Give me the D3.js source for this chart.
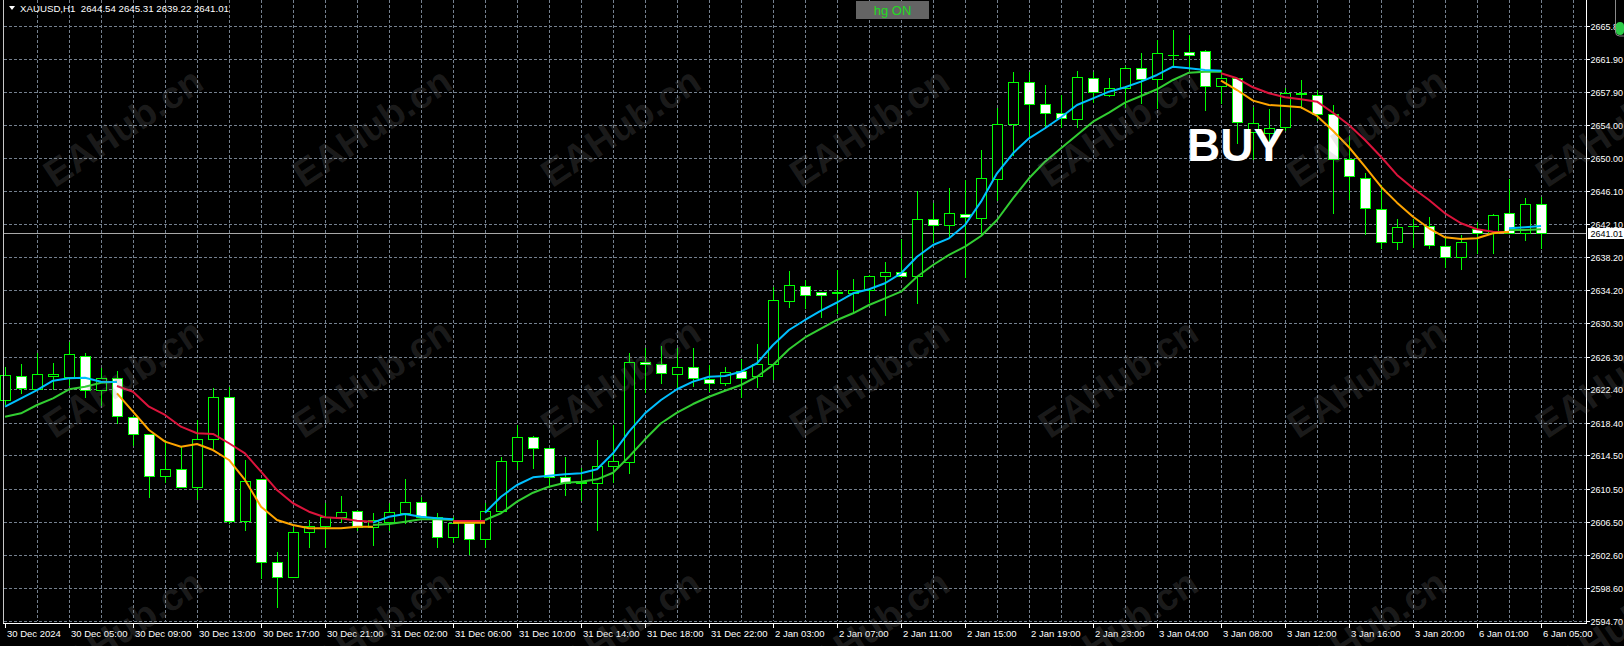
<!DOCTYPE html>
<html><head><meta charset="utf-8">
<script src="https://cdn.jsdelivr.net/npm/d3@7"></script>
<style>html,body{margin:0;padding:0;background:#000;overflow:hidden}</style>
</head><body>
<svg id="chart" width="1624" height="646"></svg>
<script>
// ---------------- DATA ----------------
const headerText = "XAUUSD,H1  2644.54 2645.31 2639.22 2641.01";
const lastPrice = 2641.01;
const signalText = "BUY";
const buttonText = "hg ON";
const watermarkText = "EAHub.cn";

const timeLabels = ["30 Dec 2024","30 Dec 05:00","30 Dec 09:00","30 Dec 13:00","30 Dec 17:00","30 Dec 21:00",
  "31 Dec 02:00","31 Dec 06:00","31 Dec 10:00","31 Dec 14:00","31 Dec 18:00","31 Dec 22:00",
  "2 Jan 03:00","2 Jan 07:00","2 Jan 11:00","2 Jan 15:00","2 Jan 19:00","2 Jan 23:00",
  "3 Jan 04:00","3 Jan 08:00","3 Jan 12:00","3 Jan 16:00","3 Jan 20:00","6 Jan 01:00","6 Jan 05:00"];
const timeLabelStep = 4; // one label every 4 bars

const priceTicks = [2594.70,2598.60,2602.60,2606.50,2610.50,2614.50,2618.40,2622.40,2626.30,2630.30,
  2634.20,2638.20,2642.10,2646.10,2650.00,2654.00,2657.90,2661.90,2665.80];

const openP = [2621.11,2624.02,2622.39,2623.98,2623.89,2626.40,2622.30,2623.77,2619.11,2617.01,
2612.06,2612.83,2610.68,2616.41,2621.50,2606.69,2611.63,2601.71,2599.92,2605.30,
2606.09,2607.16,2607.88,2605.97,2606.57,2607.64,2608.88,2607.16,2604.70,2606.45,
2604.46,2607.88,2613.86,2616.65,2615.34,2611.87,2611.23,2611.23,2613.26,2613.74,
2625.69,2625.38,2624.18,2625.02,2623.58,2623.11,2624.61,2623.98,2625.38,2632.98,
2634.73,2634.02,2633.93,2633.93,2634.25,2635.96,2636.44,2635.96,2642.70,2642.02,
2643.30,2642.82,2647.48,2654.06,2659.15,2656.48,2655.44,2654.65,2659.55,2657.56,
2658.36,2660.75,2659.43,2662.34,2662.74,2662.86,2658.64,2659.55,2653.17,2652.98,
2653.70,2657.76,2657.56,2655.29,2649.87,2647.60,2643.90,2639.99,2641.90,2641.90,
2639.51,2638.23,2641.51,2641.03,2643.42,2641.03,2644.54];

const highP = [2625.00,2625.38,2626.69,2625.50,2628.08,2626.73,2624.90,2624.58,2619.20,2617.05,
2616.33,2615.53,2618.72,2622.51,2622.63,2613.94,2611.67,2602.98,2605.97,2606.77,
2608.77,2609.64,2607.96,2607.57,2608.77,2611.63,2609.55,2607.64,2607.16,2606.77,
2608.77,2614.26,2618.12,2616.81,2615.37,2614.26,2612.95,2616.33,2618.12,2626.69,
2627.36,2627.56,2627.32,2627.32,2625.29,2625.09,2625.97,2627.80,2634.58,2636.53,
2635.45,2634.05,2636.65,2635.57,2636.05,2637.64,2640.31,2646.12,2644.61,2646.41,
2647.40,2650.98,2655.97,2660.34,2660.34,2658.70,2657.56,2660.43,2660.34,2659.55,
2661.02,2662.54,2664.13,2665.32,2664.73,2662.94,2660.55,2659.59,2656.16,2655.85,
2658.36,2659.35,2658.15,2656.36,2652.66,2648.20,2646.80,2642.70,2642.70,2643.01,
2640.62,2640.83,2642.42,2643.34,2647.48,2645.22,2645.31];

const lowP = [2620.60,2621.91,2622.30,2622.39,2622.90,2621.50,2620.51,2618.33,2615.73,2609.55,
2611.35,2610.68,2609.24,2615.34,2606.38,2605.57,2599.80,2596.41,2599.92,2603.58,
2603.58,2606.57,2605.57,2603.78,2605.57,2606.45,2607.16,2603.51,2604.18,2602.71,
2603.51,2607.57,2612.83,2612.95,2610.75,2609.76,2609.16,2605.57,2611.35,2612.42,
2622.10,2623.11,2622.63,2622.82,2622.22,2622.90,2621.50,2622.63,2623.62,2632.26,
2632.14,2631.06,2631.47,2631.47,2632.86,2631.27,2635.90,2632.74,2640.03,2640.71,
2635.84,2640.83,2645.01,2650.39,2652.57,2653.77,2653.77,2653.77,2656.76,2657.44,
2656.16,2656.57,2655.97,2660.94,2660.55,2655.77,2656.57,2651.78,2649.87,2649.87,
2653.37,2655.97,2654.57,2643.42,2645.09,2640.95,2639.24,2639.12,2639.43,2639.24,
2636.97,2636.73,2638.64,2638.64,2641.03,2640.23,2639.22];

const closeP = [2624.10,2622.51,2624.18,2624.18,2626.57,2622.30,2623.77,2619.20,2617.01,2612.06,
2612.83,2610.68,2616.41,2621.50,2606.69,2611.47,2601.71,2599.92,2605.30,2606.05,
2607.16,2607.76,2605.97,2606.77,2607.76,2608.88,2607.16,2604.70,2606.45,2604.46,
2607.88,2613.86,2616.65,2615.34,2611.94,2611.23,2611.27,2613.26,2613.86,2625.69,
2625.38,2624.30,2625.02,2623.70,2623.11,2624.42,2623.70,2625.38,2633.06,2634.85,
2633.66,2633.62,2633.98,2634.25,2635.96,2636.44,2635.96,2642.70,2642.02,2643.42,
2642.94,2647.60,2654.06,2659.15,2656.48,2655.44,2654.77,2659.67,2657.95,2658.36,
2660.75,2659.43,2662.54,2662.30,2662.34,2658.64,2659.55,2654.30,2654.17,2653.65,
2657.76,2657.72,2655.29,2649.87,2647.88,2644.02,2639.99,2641.82,2641.94,2639.63,
2638.23,2639.99,2641.03,2643.22,2641.10,2644.50,2641.01];

const gap = n => Array(n).fill(null);
// fast MA, uptrend buffer (blue)
const fastUp = [2620.31,2621.31,2622.30,2623.42,2623.70,2623.77,2623.30,2623.26, ...gap(15),
  2606.45,2607.16,2607.49,2607.16,2606.97,2606.85, null,
  2607.64,2609.55,2610.95,2611.87,2612.06,2612.23,2612.35,2612.83,2614.74,2617.32,
  2619.52,2621.11,2622.39,2623.30,2623.89,2623.98,2624.49,2625.50,2627.68,2629.47,
  2630.67,2631.80,2632.76,2633.86,2634.34,2635.06,2636.25,2638.23,2639.63,2640.43,
  2642.02,2644.81,2648.20,2650.59,2652.38,2653.58,2654.89,2656.36,2657.16,2657.95,
  2658.48,2659.15,2659.95,2660.94,2660.75,2660.54,2660.46, ...gap(17),
  2641.63,2641.75,2641.90];
// slow MA, uptrend buffer (green)
const slowUp = [2619.11,2619.52,2620.51,2621.31,2622.39,2622.70,2623.18,2623.30, ...gap(15),
  2606.17,2606.29,2606.57,2606.85,2606.85,2606.77, null,
  2606.77,2607.57,2608.96,2610.03,2610.75,2611.23,2611.35,2611.63,2612.42,2614.33,
  2616.41,2618.33,2619.59,2620.63,2621.50,2622.22,2622.90,2623.89,2625.29,2627.17,
  2628.58,2629.65,2630.67,2631.47,2632.46,2633.26,2634.05,2635.84,2637.24,2638.44,
  2639.43,2640.71,2642.62,2645.21,2647.60,2649.59,2651.19,2652.78,2654.37,2655.44,
  2656.64,2657.44,2658.24,2659.35,2660.22,2660.34,2660.34, ...gap(17),
  2641.42,2641.42,2641.51];
// fast MA, downtrend buffer (orange)
const fastDown = [...gap(7),
  2621.91,2619.71,2617.52,2616.13,2615.53,2615.85,2615.13,2613.94,2611.55,2608.36,
  2606.77,2606.17,2605.78,2605.78,2605.78,2605.97,2605.97, ...gap(4),
  2606.45,2606.45,2606.45, ...gap(45),
  2659.27,2658.15,2656.88,2656.36,2656.24,2656.09,2655.05,2653.29,2651.31,2648.99,
  2646.60,2644.69,2643.01,2641.63,2640.55,2640.35,2640.43,2641.03,2641.22, ...gap(2)];
// slow MA, downtrend buffer (red)
const slowDown = [...gap(7),
  2622.78,2622.10,2620.31,2619.32,2617.92,2617.13,2617.05,2615.94,2614.74,2612.54,
  2610.35,2608.77,2607.76,2607.09,2606.97,2606.69,2606.57, ...gap(4),
  2606.65,2606.65,2606.65, ...gap(45),
  2660.15,2659.55,2658.48,2657.76,2657.28,2657.04,2656.76,2655.44,2653.97,2652.18,
  2650.18,2648.00,2646.41,2645.01,2643.42,2642.23,2641.51,2641.22,2641.15, ...gap(2)];

// ---------------- DRAW ----------------
const W = 1624, H = 646;
const plotLeft = 3, plotRight = 1587, plotBottom = 623;
const FONT = "'Liberation Sans', Arial, sans-serif";
const svg = d3.select("#chart");
svg.append("rect").attr("width", W).attr("height", H).attr("fill", "#000");

const n = openP.length;
const x = d3.scaleLinear().domain([0, n - 1]).range([5, 1541]);
const y = d3.scaleLinear().domain([2594.70, 2665.80]).range([621, 26]);
const px = i => Math.round(x(i));
const py = v => Math.round(y(v));

const gridColor = "#74808e";
const grid = svg.append("g");
// horizontal grid
priceTicks.forEach(v => {
  grid.append("line").attr("x1", plotLeft + 1).attr("x2", plotRight)
    .attr("y1", py(v) + 0.5).attr("y2", py(v) + 0.5)
    .attr("stroke", gridColor).attr("stroke-dasharray", "3,2");
});
// vertical grid (every 2 bars)
d3.range(2, n + 2, 2).forEach(i => {
  grid.append("line").attr("x1", px(i) + 0.5).attr("x2", px(i) + 0.5)
    .attr("y1", 0).attr("y2", 621)
    .attr("stroke", gridColor).attr("stroke-dasharray", "3,2");
});

// last price line
svg.append("line").attr("x1", plotLeft).attr("x2", plotRight)
  .attr("y1", py(lastPrice) + 0.5).attr("y2", py(lastPrice) + 0.5)
  .attr("stroke", "#a8a8a8");

// candles
const candles = svg.append("g");
for (let i = 0; i < n; i++) {
  const cx = px(i);
  candles.append("line").attr("x1", cx + 0.5).attr("x2", cx + 0.5)
    .attr("y1", py(highP[i])).attr("y2", py(lowP[i]) + 1)
    .attr("stroke", "#00ff00");
  const top = py(Math.max(openP[i], closeP[i]));
  const bot = py(Math.min(openP[i], closeP[i]));
  const bull = closeP[i] >= openP[i];
  if (bot - top < 1) {
    candles.append("line").attr("x1", cx - 5).attr("x2", cx + 6)
      .attr("y1", top + 0.5).attr("y2", top + 0.5).attr("stroke", "#00ff00");
  } else {
    candles.append("rect").attr("x", cx - 4.5).attr("y", top + 0.5)
      .attr("width", 10).attr("height", bot - top)
      .attr("fill", bull ? "#000" : "#fff").attr("stroke", "#00ff00");
  }
}

// moving averages
const lineGen = d3.line().defined(d => d.v != null).x(d => x(d.i)).y(d => y(d.v));
const series = [
  {data: slowUp, color: "#32cd32"},
  {data: fastUp, color: "#00bfff"},
  {data: slowDown, color: "#dc143c"},
  {data: fastDown, color: "#ffa500"}
];
series.forEach(s => {
  svg.append("path").datum(s.data.map((v, i) => ({i, v})))
    .attr("d", lineGen).attr("fill", "none")
    .attr("stroke", s.color).attr("stroke-width", 2).attr("stroke-linejoin", "round");
});

// borders
svg.append("line").attr("x1", plotLeft + 0.5).attr("x2", plotLeft + 0.5).attr("y1", 0).attr("y2", plotBottom + 1)
  .attr("stroke", "#c8c8c8");
svg.append("line").attr("x1", plotRight - 0.5).attr("x2", plotRight - 0.5).attr("y1", 0).attr("y2", plotBottom + 1)
  .attr("stroke", "#ffffff");
svg.append("line").attr("x1", plotLeft).attr("x2", plotRight).attr("y1", plotBottom + 0.5).attr("y2", plotBottom + 0.5)
  .attr("stroke", "#ffffff");

// right price axis
const yAxisG = svg.append("g");
priceTicks.forEach(v => {
  yAxisG.append("line").attr("x1", plotRight).attr("x2", plotRight + 3)
    .attr("y1", py(v) + 0.5).attr("y2", py(v) + 0.5).attr("stroke", "#fff");
  yAxisG.append("text").attr("x", 1590.5).attr("y", py(v) + 0.5).attr("dy", "0.35em")
    .attr("fill", "#fff").attr("font-family", FONT).attr("font-size", "9px")
    .text(v.toFixed(2));
});
// last price label
svg.append("rect").attr("x", 1588).attr("y", py(lastPrice) - 5).attr("width", 36).attr("height", 11).attr("fill", "#fff");
svg.append("text").attr("x", 1590.5).attr("y", py(lastPrice) + 0.5).attr("dy", "0.35em")
  .attr("fill", "#000").attr("font-family", FONT).attr("font-size", "9px").text(lastPrice.toFixed(2));

// bottom time axis
const xAxisG = svg.append("g");
timeLabels.forEach((t, k) => {
  const xi = px(k * timeLabelStep);
  xAxisG.append("line").attr("x1", xi + 0.5).attr("x2", xi + 0.5).attr("y1", plotBottom).attr("y2", plotBottom + 5)
    .attr("stroke", "#fff");
  xAxisG.append("text").attr("x", xi + 2).attr("y", 637)
    .attr("fill", "#fff").attr("font-family", FONT).attr("font-size", "9.5px").text(t);
});

// header
svg.append("path").attr("d", "M9,6 L15,6 L12,10 Z").attr("fill", "#fff");
svg.append("text").attr("x", 20).attr("y", 11.5).attr("fill", "#fff")
  .attr("font-family", FONT).attr("font-size", "9.7px")
  .style("white-space", "pre").text(headerText);

// hg ON button
svg.append("rect").attr("x", 856).attr("y", 1).attr("width", 73).attr("height", 18).attr("fill", "#646464");
svg.append("text").attr("x", 892.5).attr("y", 15).attr("text-anchor", "middle")
  .attr("fill", "#1fdc1f").attr("font-family", FONT).attr("font-size", "13px").text(buttonText);

// top-right indicator
svg.append("rect").attr("x", 1615.5).attr("y", -6).attr("width", 12).attr("height", 42).attr("rx", 4)
  .attr("fill", "none").attr("stroke", "#8a8a8a");
svg.append("rect").attr("x", 1616).attr("y", 22).attr("width", 8).attr("height", 13).attr("rx", 4)
  .attr("fill", "#2ecc4a");

// BUY signal
svg.append("text").attr("x", 1187).attr("y", 161).attr("fill", "#fff")
  .attr("font-family", FONT).attr("font-weight", "bold").attr("font-size", "46px").text(signalText);

// watermark
const wmCols = d3.range(0, 7), wmRows = d3.range(0, 3);
const wm = svg.append("g").attr("pointer-events", "none");
wmRows.forEach(r => wmCols.forEach(c => {
  const cx = 123 + c * 248.7, cy = 127 + r * 251;
  wm.append("text").attr("transform", `translate(${cx},${cy}) rotate(-33.7)`)
    .attr("text-anchor", "middle").attr("dy", "0.35em")
    .attr("font-family", FONT).attr("font-weight", "bold").attr("font-size", "38px")
    .attr("fill", "#8c8c8c").attr("fill-opacity", 0.2).text(watermarkText);
}));
</script>
</body></html>
